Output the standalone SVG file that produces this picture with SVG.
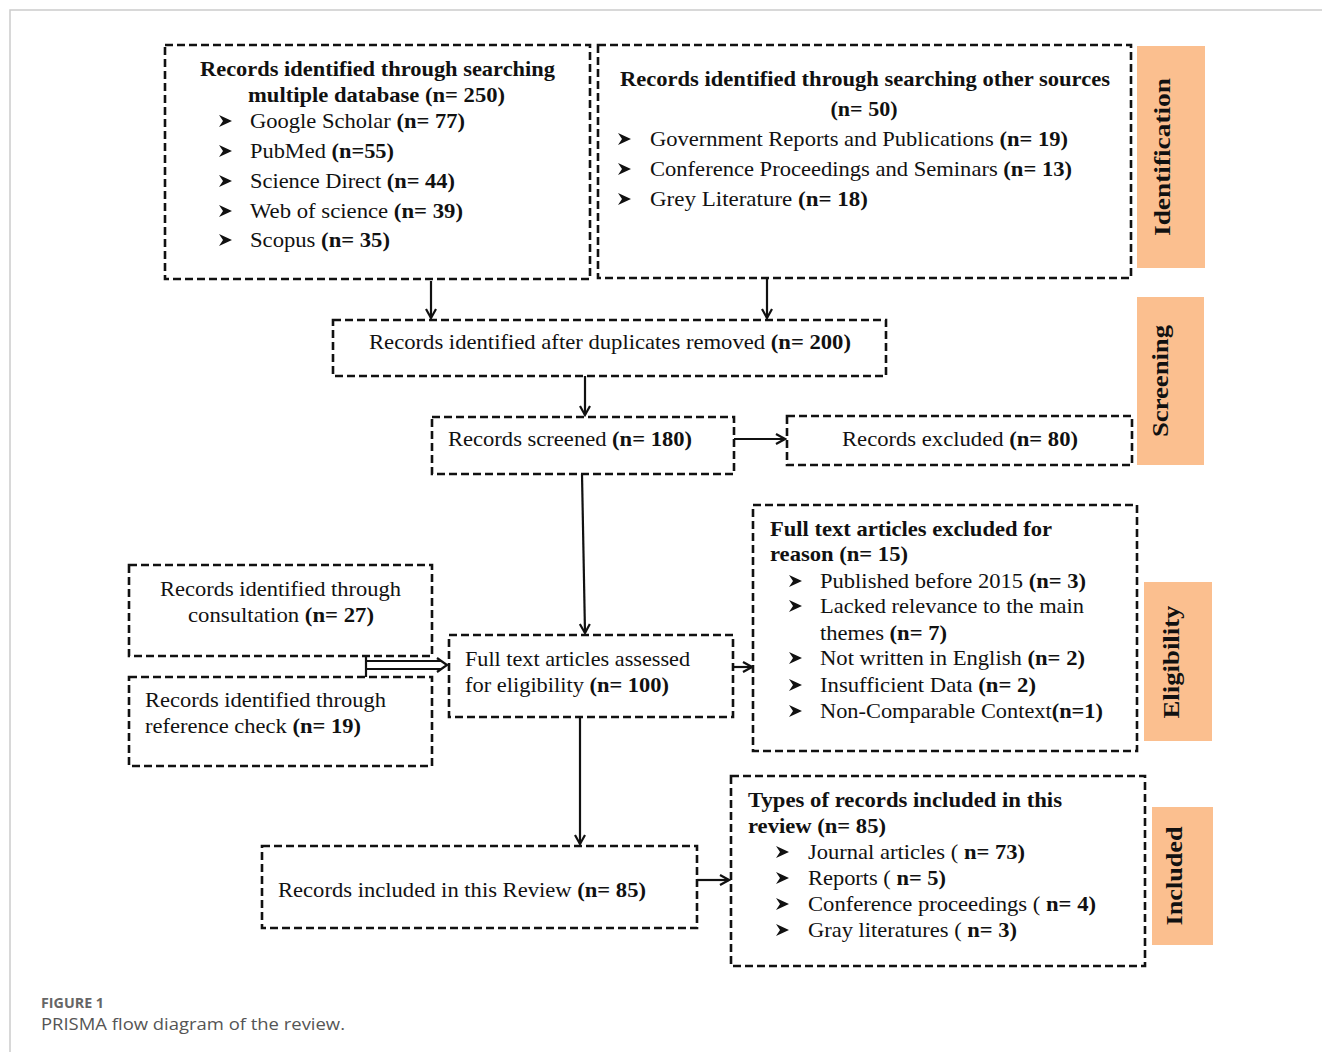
<svg xmlns="http://www.w3.org/2000/svg" width="1322" height="1052" viewBox="0 0 1322 1052">
<defs>
<style>
.box{fill:#fff;stroke:#111;stroke-width:2.6;stroke-dasharray:8 4}
.lab{fill:#fbbf8f}
.t{font-family:"Liberation Serif","Times New Roman",serif;font-size:22px;fill:#111}
.b{font-weight:bold}
.lt{font-family:"Liberation Serif","Times New Roman",serif;font-size:23px;font-weight:bold;fill:#111}
.c{stroke:#111;stroke-width:2.2;fill:none}
.bul{fill:#111}
.cap1{font-family:"Open Sans","Liberation Sans",sans-serif;font-size:14px;font-weight:bold;fill:#666}
.cap2{font-family:"Open Sans","Liberation Sans",sans-serif;font-size:17px;fill:#555}
</style>
<marker id="ah" viewBox="0 0 12 12" refX="10" refY="6" markerWidth="12" markerHeight="12" orient="auto" markerUnits="userSpaceOnUse">
<path d="M1,1 L10,6 L1,11" fill="none" stroke="#111" stroke-width="2.2"/>
</marker>
<path id="bl" d="M0,-6 L13,0 L0,6 L4,0 Z"/>
</defs>
<rect x="0" y="0" width="1322" height="1052" fill="#fff"/>
<path d="M10,1052 L10,10 L1322,10" fill="none" stroke="#ccc" stroke-width="1.5"/>

<g id="lab-identification">
<rect class="lab" x="1137" y="46" width="68" height="222"/>
<text class="lt" transform="translate(1170,157) rotate(-90)" text-anchor="middle" textLength="158" lengthAdjust="spacingAndGlyphs">Identification</text>
</g>
<g id="lab-screening">
<rect class="lab" x="1137" y="297" width="67" height="168"/>
<text class="lt" transform="translate(1168,381) rotate(-90)" text-anchor="middle" textLength="112" lengthAdjust="spacingAndGlyphs">Screening</text>
</g>
<g id="lab-eligibility">
<rect class="lab" x="1144" y="582" width="68" height="159"/>
<text class="lt" transform="translate(1179,662) rotate(-90)" text-anchor="middle" textLength="113" lengthAdjust="spacingAndGlyphs">Eligibility</text>
</g>
<g id="lab-included">
<rect class="lab" x="1152" y="807" width="61" height="138"/>
<text class="lt" transform="translate(1182,876) rotate(-90)" text-anchor="middle" textLength="99" lengthAdjust="spacingAndGlyphs">Included</text>
</g>

<g id="connectors">
<line class="c" x1="431" y1="281" x2="431" y2="318" marker-end="url(#ah)"/>
<line class="c" x1="767" y1="279" x2="767" y2="318" marker-end="url(#ah)"/>
<line class="c" x1="585" y1="376" x2="585" y2="415" marker-end="url(#ah)"/>
<line class="c" x1="734" y1="439" x2="785" y2="439" stroke-width="3" marker-end="url(#ah)"/>
<line class="c" x1="582" y1="474" x2="585" y2="633" marker-end="url(#ah)"/>
<line class="c" x1="366" y1="656" x2="366" y2="677" stroke-width="2.6"/>
<line class="c" x1="366" y1="661" x2="441" y2="661" stroke-width="2.4"/>
<line class="c" x1="366" y1="669" x2="441" y2="669" stroke-width="2.4"/>
<path class="c" d="M437,658 L447,665 L437,672"/>
<line class="c" x1="733" y1="667" x2="752" y2="667" marker-end="url(#ah)"/>
<line class="c" x1="580" y1="717" x2="580" y2="844" marker-end="url(#ah)"/>
<line class="c" x1="697" y1="880" x2="729" y2="880" stroke-width="3" marker-end="url(#ah)"/>
</g>

<g id="n-databases">
<rect class="box" x="165" y="45" width="425" height="234"/>
<text class="t b" x="200" y="76" textLength="355" lengthAdjust="spacingAndGlyphs">Records identified through searching</text>
<text class="t b" x="248" y="102" textLength="257" lengthAdjust="spacingAndGlyphs">multiple database (n= 250)</text>
<use href="#bl" class="bul" x="219" y="121"/>
<text class="t" x="250" y="128" textLength="215" lengthAdjust="spacingAndGlyphs">Google Scholar <tspan class="b">(n= 77)</tspan></text>
<use href="#bl" class="bul" x="219" y="151"/>
<text class="t" x="250" y="158" textLength="144" lengthAdjust="spacingAndGlyphs">PubMed <tspan class="b">(n=55)</tspan></text>
<use href="#bl" class="bul" x="219" y="181"/>
<text class="t" x="250" y="188" textLength="205" lengthAdjust="spacingAndGlyphs">Science Direct <tspan class="b">(n= 44)</tspan></text>
<use href="#bl" class="bul" x="219" y="211"/>
<text class="t" x="250" y="218" textLength="213" lengthAdjust="spacingAndGlyphs">Web of science  <tspan class="b">(n= 39)</tspan></text>
<use href="#bl" class="bul" x="219" y="240"/>
<text class="t" x="250" y="247" textLength="140" lengthAdjust="spacingAndGlyphs">Scopus <tspan class="b">(n= 35)</tspan></text>
</g>

<g id="n-other">
<rect class="box" x="598" y="45" width="533" height="233"/>
<text class="t b" x="620" y="86" textLength="490" lengthAdjust="spacingAndGlyphs">Records identified through searching other sources</text>
<text class="t b" x="864" y="116" text-anchor="middle">(n= 50)</text>
<use href="#bl" class="bul" x="618" y="139"/>
<text class="t" x="650" y="146" textLength="418" lengthAdjust="spacingAndGlyphs">Government Reports and Publications <tspan class="b">(n= 19)</tspan></text>
<use href="#bl" class="bul" x="618" y="169"/>
<text class="t" x="650" y="176" textLength="422" lengthAdjust="spacingAndGlyphs">Conference Proceedings and Seminars <tspan class="b">(n= 13)</tspan></text>
<use href="#bl" class="bul" x="618" y="199"/>
<text class="t" x="650" y="206" textLength="218" lengthAdjust="spacingAndGlyphs">Grey Literature <tspan class="b">(n=  18)</tspan></text>
</g>

<g id="n-duplicates">
<rect class="box" x="333" y="320" width="553" height="56"/>
<text class="t" x="369" y="349" textLength="482" lengthAdjust="spacingAndGlyphs">Records identified after duplicates removed <tspan class="b">(n= 200)</tspan></text>
</g>

<g id="n-screened">
<rect class="box" x="432" y="417" width="302" height="57"/>
<text class="t" x="448" y="446" textLength="244" lengthAdjust="spacingAndGlyphs">Records screened <tspan class="b">(n= 180)</tspan></text>
</g>

<g id="n-excluded">
<rect class="box" x="787" y="416" width="345" height="49"/>
<text class="t" x="842" y="446" textLength="236" lengthAdjust="spacingAndGlyphs">Records excluded <tspan class="b">(n= 80)</tspan></text>
</g>

<g id="n-consultation">
<rect class="box" x="129" y="565" width="303" height="91"/>
<text class="t" x="160" y="596" textLength="241" lengthAdjust="spacingAndGlyphs">Records identified through</text>
<text class="t" x="188" y="622" textLength="186" lengthAdjust="spacingAndGlyphs">consultation  <tspan class="b">(n= 27)</tspan></text>
</g>

<g id="n-reference">
<rect class="box" x="129" y="677" width="303" height="89"/>
<text class="t" x="145" y="707" textLength="241" lengthAdjust="spacingAndGlyphs">Records identified through</text>
<text class="t" x="145" y="733" textLength="216" lengthAdjust="spacingAndGlyphs">reference check <tspan class="b">(n= 19)</tspan></text>
</g>

<g id="n-assessed">
<rect class="box" x="449" y="635" width="284" height="82"/>
<text class="t" x="465" y="666" textLength="225" lengthAdjust="spacingAndGlyphs">Full text articles assessed</text>
<text class="t" x="465" y="692" textLength="204" lengthAdjust="spacingAndGlyphs">for eligibility <tspan class="b">(n= 100)</tspan></text>
</g>

<g id="n-fulltext-excluded">
<rect class="box" x="753" y="505" width="384" height="246"/>
<text class="t b" x="770" y="536" textLength="282" lengthAdjust="spacingAndGlyphs">Full text articles excluded  for</text>
<text class="t b" x="770" y="561" textLength="138" lengthAdjust="spacingAndGlyphs">reason  (n= 15)</text>
<use href="#bl" class="bul" x="789" y="581"/>
<text class="t" x="820" y="588" textLength="266" lengthAdjust="spacingAndGlyphs">Published before 2015 <tspan class="b">(n= 3)</tspan></text>
<use href="#bl" class="bul" x="789" y="606"/>
<text class="t" x="820" y="613" textLength="264" lengthAdjust="spacingAndGlyphs">Lacked relevance to the main</text>
<text class="t" x="820" y="640" textLength="127" lengthAdjust="spacingAndGlyphs">themes <tspan class="b">(n= 7)</tspan></text>
<use href="#bl" class="bul" x="789" y="658"/>
<text class="t" x="820" y="665" textLength="265" lengthAdjust="spacingAndGlyphs">Not written in English <tspan class="b">(n= 2)</tspan></text>
<use href="#bl" class="bul" x="789" y="685"/>
<text class="t" x="820" y="692" textLength="216" lengthAdjust="spacingAndGlyphs">Insufficient Data <tspan class="b">(n= 2)</tspan></text>
<use href="#bl" class="bul" x="789" y="711"/>
<text class="t" x="820" y="718" textLength="283" lengthAdjust="spacingAndGlyphs">Non-Comparable Context<tspan class="b">(n=1)</tspan></text>
</g>

<g id="n-included">
<rect class="box" x="262" y="846" width="435" height="82"/>
<text class="t" x="278" y="897" textLength="368" lengthAdjust="spacingAndGlyphs">Records included in this Review <tspan class="b">(n= 85)</tspan></text>
</g>

<g id="n-types">
<rect class="box" x="731" y="776" width="414" height="190"/>
<text class="t b" x="748" y="807" textLength="314" lengthAdjust="spacingAndGlyphs">Types of records included in this</text>
<text class="t b" x="748" y="833" textLength="138" lengthAdjust="spacingAndGlyphs">review  (n= 85)</text>
<use href="#bl" class="bul" x="776" y="852"/>
<text class="t" x="808" y="859" textLength="217" lengthAdjust="spacingAndGlyphs">Journal articles ( <tspan class="b">n= 73)</tspan></text>
<use href="#bl" class="bul" x="776" y="878"/>
<text class="t" x="808" y="885" textLength="138" lengthAdjust="spacingAndGlyphs">Reports ( <tspan class="b">n= 5)</tspan></text>
<use href="#bl" class="bul" x="776" y="904"/>
<text class="t" x="808" y="911" textLength="288" lengthAdjust="spacingAndGlyphs">Conference proceedings ( <tspan class="b">n= 4)</tspan></text>
<use href="#bl" class="bul" x="776" y="930"/>
<text class="t" x="808" y="937" textLength="209" lengthAdjust="spacingAndGlyphs">Gray literatures ( <tspan class="b">n= 3)</tspan></text>
</g>

<text class="cap1" x="41" y="1008" textLength="63" lengthAdjust="spacingAndGlyphs">FIGURE 1</text>
<text class="cap2" x="41" y="1030" textLength="304" lengthAdjust="spacingAndGlyphs">PRISMA flow diagram of the review.</text>
</svg>
